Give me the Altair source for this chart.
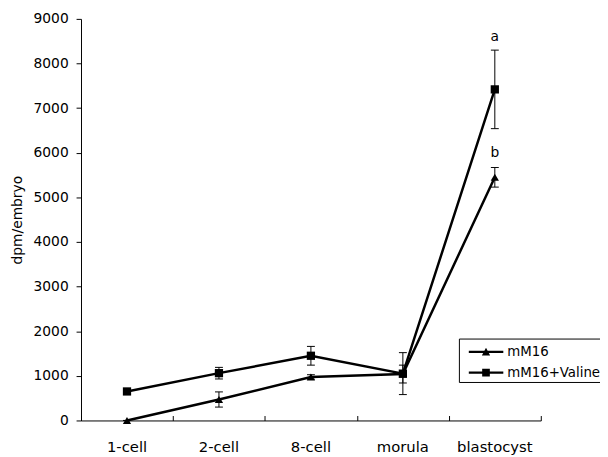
import altair as alt
import pandas as pd

stages = ["1-cell", "2-cell", "8-cell", "morula", "blastocyst"]
series = ["mM16", "mM16+Valine"]
mm16 = [0, 470, 975, 1040, 5450]
mm16_err = [0, 170, 50, 200, 220]
valine = [650, 1060, 1450, 1050, 7420]
valine_err = [40, 130, 210, 470, 880]

letters = ["a", "b"]
letter_stage = ["blastocyst", "blastocyst"]
letter_y = [8600, 6000]

rows = []
for i, s in enumerate(stages):
    rows.append({"stage": s, "series": series[0], "value": mm16[i],
                 "lo": mm16[i] - mm16_err[i], "hi": mm16[i] + mm16_err[i]})
    rows.append({"stage": s, "series": series[1], "value": valine[i],
                 "lo": valine[i] - valine_err[i], "hi": valine[i] + valine_err[i]})
df = pd.DataFrame(rows)
lab = pd.DataFrame({"stage": letter_stage, "txt": letters, "y": letter_y})

FONT = "DejaVu Sans"
W, H = 466, 407

xscale = alt.Scale(type="band", domain=stages, paddingInner=0, paddingOuter=0)
yscale = alt.Scale(domain=[0, 9000], nice=False)

x_bottom = alt.X("stage:N", scale=xscale, axis=alt.Axis(
    title=None, orient="bottom", ticks=False, labelPadding=19, labelFontSize=15,
    labelAngle=0, domainColor="black", labelColor="black", labelFont=FONT, grid=False))
x_top = alt.X("stage:N", scale=xscale, axis=alt.Axis(
    title=None, orient="top", offset=-H, labels=False, domain=False, ticks=True,
    tickBand="extent", tickSize=5, tickColor="black", grid=False))
x_none = alt.X("stage:N", scale=xscale, axis=None)

y_axis = alt.Axis(values=list(range(0, 9001, 1000)), grid=False, tickSize=5,
                  labelPadding=8, labelFontSize=14, labelFont=FONT, titleFont=FONT,
                  titleFontSize=14, titleFontWeight="normal", titlePadding=9,
                  domainColor="black", tickColor="black", labelColor="black",
                  titleColor="black", format="d", title="dpm/embryo", orient="left")

base = alt.Chart(df)

lines = base.mark_line(color="black", strokeWidth=2.5).encode(
    x=x_bottom, y=alt.Y("value:Q", scale=yscale, axis=y_axis), detail="series:N")

rules = base.mark_rule(color="black", strokeWidth=1).encode(
    x=x_none, y=alt.Y("lo:Q", scale=yscale, axis=y_axis), y2="hi:Q")
cap_lo = base.mark_tick(color="black", thickness=1, size=8, opacity=1).encode(
    x=x_none, y=alt.Y("lo:Q", scale=yscale, axis=y_axis))
cap_hi = base.mark_tick(color="black", thickness=1, size=8, opacity=1).encode(
    x=x_none, y=alt.Y("hi:Q", scale=yscale, axis=y_axis))

points = base.mark_point(filled=True, color="black", size=70, opacity=1).encode(
    x=x_top, y=alt.Y("value:Q", scale=yscale, axis=y_axis),
    shape=alt.Shape("series:N", scale=alt.Scale(domain=series, range=["triangle-up", "square"]),
                    legend=None))

tri_path = "M-0.33,-0.1H3.0V0.1H-0.33Z M0.93,0.36L1.33,-0.4L1.73,0.36Z"
sq_path = "M-0.33,-0.1H3.0V0.1H-0.33Z M0.96,-0.37H1.70V0.37H0.96Z"

legend_layer = base.transform_filter("false").mark_point(filled=True, color="black", opacity=1).encode(
    shape=alt.Shape("series:N", scale=alt.Scale(domain=series, range=[tri_path, sq_path]),
                    legend=alt.Legend(title=None, orient="none", legendX=383, legendY=324,
                                      symbolSize=441, symbolFillColor="black",
                                      symbolStrokeWidth=0, symbolOpacity=1,
                                      labelFont=FONT, labelFontSize=13.5, labelColor="black",
                                      labelOffset=25, padding=3, rowPadding=4,
                                      strokeColor="black", fillColor="white")))

texts = alt.Chart(lab).mark_text(font=FONT, fontSize=14, color="black", baseline="middle").encode(
    x=x_none, y=alt.Y("y:Q", scale=yscale, axis=y_axis), text="txt:N")

chart = alt.layer(lines, rules, cap_lo, cap_hi, points, texts, legend_layer).resolve_scale(
    shape="independent").resolve_axis(x="independent", y="shared").properties(
    width=W, height=H,
    autosize=alt.AutoSizeParams(type="none"),
    padding={"left": 74, "top": 8, "right": 60, "bottom": 34},
    background="white",
).configure_view(stroke=None)

chart.save("out.html", embed_options={"renderer": "svg", "actions": False})
